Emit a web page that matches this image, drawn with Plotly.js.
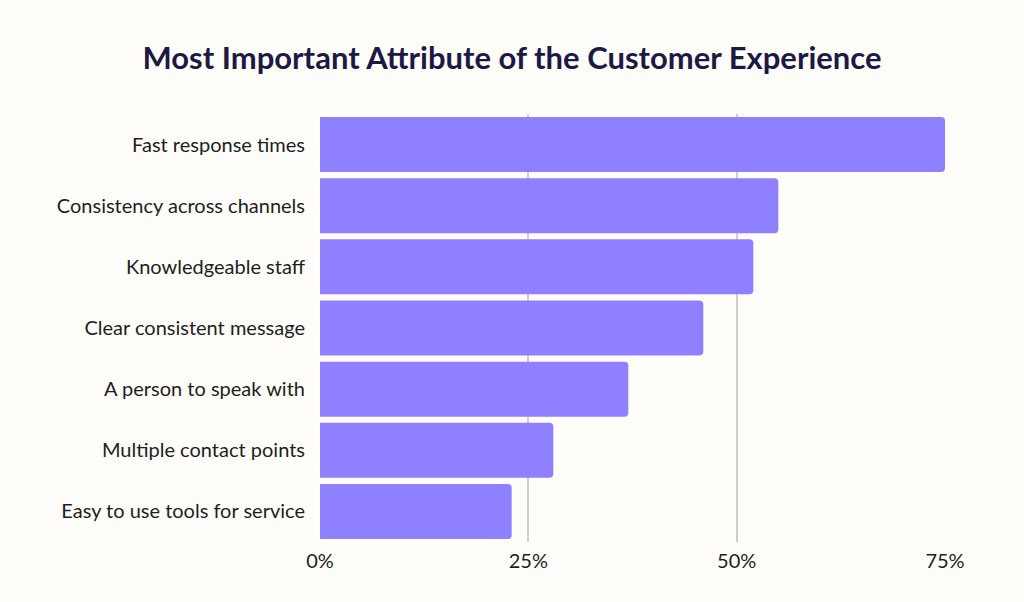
<!DOCTYPE html>
<html>
<head>
<meta charset="utf-8">
<script src="https://cdn.plot.ly/plotly-3.0.1.min.js"></script>
<style>html,body{margin:0;padding:0;background:#fffdf9;}#chart{width:1024px;height:602px;}</style>
</head>
<body>
<div id="chart"></div>
<script>
const categories = [
  "Fast response times",
  "Consistency across channels",
  "Knowledgeable staff",
  "Clear consistent message",
  "A person to speak with",
  "Multiple contact points",
  "Easy to use tools for service"
];
const values = [75, 55, 52, 46, 37, 28, 23];
const tickValues = [0, 25, 50, 75];
const tickLabels = ["0%", "25%", "50%", "75%"];

const trace = {
  type: "bar",
  orientation: "h",
  y: categories,
  x: values,
  marker: { color: "#8f80ff", cornerradius: 4 },
  hoverinfo: "x+y"
};

const layout = {
  width: 1024,
  height: 602,
  paper_bgcolor: "#fffdf9",
  plot_bgcolor: "#fffdf9",
  margin: { l: 320, r: 79, t: 114, b: 60 },
  title: {
    text: "<b>Most Important Attribute of the Customer Experience</b>",
    font: { family: "Lato, sans-serif", size: 31, color: "#1c1a45" },
    x: 0.5, xanchor: "center", y: 0.903, yanchor: "middle"
  },
  bargap: 0.1,
  showlegend: false,
  xaxis: {
    range: [0, 75],
    tickvals: tickValues,
    ticktext: tickLabels,
    showgrid: true,
    gridcolor: "#cfcfcf",
    gridwidth: 1.5,
    zeroline: false,
    showline: false,
    ticks: "",
    ticklabelstandoff: 5,
    tickfont: { family: "Lato, sans-serif", size: 20, color: "#1e1e1e" },
    fixedrange: true
  },
  yaxis: {
    categoryorder: "array",
    categoryarray: categories.slice().reverse(),
    autorange: true,
    showgrid: false,
    zeroline: false,
    showline: false,
    ticks: "",
    ticklabelstandoff: 14,
    tickfont: { family: "Lato, sans-serif", size: 20, color: "#1e1e1e" },
    fixedrange: true
  }
};

Plotly.newPlot("chart", [trace], layout, { displayModeBar: false, responsive: false });
</script>
</body>
</html>
